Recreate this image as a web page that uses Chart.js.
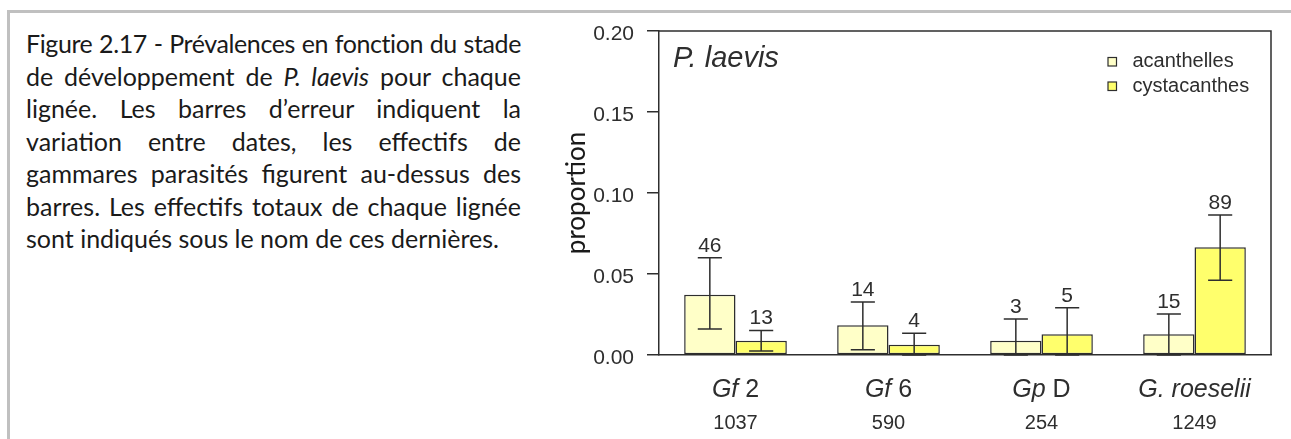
<!DOCTYPE html>
<html>
<head>
<meta charset="utf-8">
<script src="https://cdn.jsdelivr.net/npm/chart.js@4.4.0/dist/chart.umd.min.js"></script>
<style>
    html, body { margin: 0; padding: 0; background: #fff; }
    body { width: 1291px; height: 439px; position: relative; overflow: hidden; }
    #frame {
        position: absolute; left: 7px; top: 10px; width: 1300px; height: 450px;
        border-top: 3px solid #c0c0c0; border-left: 3px solid #c0c0c0;
    }
    #caption {
        position: absolute; left: 26px; top: 27px; width: 495px;
        font-family: Lato, "Open Sans", sans-serif; font-size: 25px; line-height: 32.5px; color: #1a1a1a;
    }
    #caption div { text-align: justify; text-align-last: justify; white-space: nowrap; }
    #caption div.tight { letter-spacing: -0.4px; }
    #caption div.last { text-align-last: left; }
    #wrap { position: absolute; left: 540px; top: 0; width: 751px; height: 439px; }
</style>
</head>
<body>
<div id="frame"></div>
<div id="caption">
    <div class="tight">Figure 2.17 - Prévalences en fonction du stade</div>
    <div>de développement de <i>P. laevis</i> pour chaque</div>
    <div>lignée. Les barres d’erreur indiquent la</div>
    <div>variation entre dates, les effectifs de</div>
    <div>gammares parasités figurent au-dessus des</div>
    <div>barres. Les effectifs totaux de chaque lignée</div>
    <div class="last">sont indiqués sous le nom de ces dernières.</div>
</div>
<div id="wrap"><canvas id="chart" width="751" height="439"></canvas></div>

<script>
// ==============================
// DATA
// ==============================
const categories = ["Gf 2", "Gf 6", "Gp D", "G. roeselii"];
const catItalic = ["Gf", "Gf", "Gp", "G. roeselii"];
const catPlain = ["2", "6", "D", ""];
const totals = [1037, 590, 254, 1249];

const seriesNames = ["acanthelles", "cystacanthes"];
const acanthelles = [0.0372, 0.0183, 0.0088, 0.0128];
const cystacanthes = [0.0088, 0.0064, 0.0128, 0.0665];

// error bars (variation between dates)
const acanthLow = [0.0160, 0.0033, 0, 0];
const acanthHigh = [0.0601, 0.0327, 0.0222, 0.0253];
const cystLow = [0.0025, 0, 0, 0.0461];
const cystHigh = [0.0152, 0.0134, 0.0292, 0.0864];

// parasitised gammarids above each bar
const acanthN = [46, 14, 3, 15];
const cystN = [13, 4, 5, 89];

const yTicks = [0, 0.05, 0.10, 0.15, 0.20];

const INK = "#2e2e2e";
const SANS = '"Liberation Sans", Arial, sans-serif';
const colors = ["#FFFFC8", "#FFFF6C"];

// ==============================
// EXTRA DRAWING (frame, error bars, labels, legend)
// ==============================
const extras = {
    id: "extras",
    afterDatasetsDraw(chart) {
        const { ctx, scales: { y } } = chart;
        ctx.save();
        ctx.strokeStyle = INK;
        ctx.fillStyle = INK;
        ctx.lineWidth = 1.5;
        ctx.font = "21px " + SANS;
        ctx.textAlign = "center";
        ctx.textBaseline = "alphabetic";

        const errs = [[acanthLow, acanthHigh, acanthN], [cystLow, cystHigh, cystN]];
        errs.forEach(([lo, hi, n], d) => {
            chart.getDatasetMeta(d).data.forEach((bar, i) => {
                const yHi = y.getPixelForValue(hi[i]);
                const yLo = y.getPixelForValue(lo[i]);
                const half = bar.width * 0.235;
                ctx.beginPath();
                ctx.moveTo(bar.x, yHi); ctx.lineTo(bar.x, yLo);
                ctx.moveTo(bar.x - half, yHi); ctx.lineTo(bar.x + half, yHi);
                ctx.moveTo(bar.x - half, yLo); ctx.lineTo(bar.x + half, yLo);
                ctx.stroke();
                ctx.fillText(String(n[i]), bar.x, yHi - 6);
            });
        });
        ctx.restore();
    },
    afterDraw(chart) {
        const { ctx, chartArea: a, scales: { x } } = chart;
        ctx.save();
        ctx.strokeStyle = INK;
        ctx.fillStyle = INK;
        ctx.lineWidth = 1.5;

        // box: top + right side
        ctx.beginPath();
        ctx.moveTo(a.left, a.top); ctx.lineTo(a.right, a.top); ctx.lineTo(a.right, a.bottom);
        ctx.stroke();

        // category labels (italic genus part) + totals
        ctx.textBaseline = "alphabetic";
        categories.forEach((c, i) => {
            const cx = x.getPixelForValue(i);
            ctx.font = "italic 25px " + SANS;
            const wi = ctx.measureText(catItalic[i]).width;
            const plain = catPlain[i] ? " " + catPlain[i] : "";
            ctx.font = "25px " + SANS;
            const wp = ctx.measureText(plain).width;
            const sx = cx - (wi + wp) / 2;
            ctx.textAlign = "left";
            ctx.font = "italic 25px " + SANS;
            ctx.fillText(catItalic[i], sx, a.bottom + 42);
            ctx.font = "25px " + SANS;
            ctx.fillText(plain, sx + wi, a.bottom + 42);

            ctx.textAlign = "center";
            ctx.font = "20px " + SANS;
            ctx.fillText(String(totals[i]), cx, a.bottom + 74);
        });

        // panel title
        ctx.textAlign = "left";
        ctx.font = "italic 29px " + SANS;
        ctx.fillText("P. laevis", a.left + 14, a.top + 36);

        // legend
        ctx.font = "20px " + SANS;
        ctx.lineWidth = 1.2;
        chart.data.datasets.forEach((ds, d) => {
            const ly = a.top + 31 + d * 24.5;
            const lx = a.right - 163;
            ctx.fillStyle = ds.backgroundColor;
            ctx.fillRect(lx, ly - 4.5, 8.5, 8.5);
            ctx.strokeRect(lx, ly - 4.5, 8.5, 8.5);
            ctx.fillStyle = INK;
            ctx.fillText(ds.label, lx + 24.5, ly + 5);
        });
        ctx.restore();
    }
};

// ==============================
// CHART
// ==============================
new Chart(document.getElementById("chart"), {
    type: "bar",
    data: {
        labels: categories,
        datasets: [
            { label: seriesNames[0], data: acanthelles, backgroundColor: colors[0] },
            { label: seriesNames[1], data: cystacanthes, backgroundColor: colors[1] }
        ]
    },
    options: {
        responsive: false,
        animation: false,
        devicePixelRatio: 1,
        layout: { padding: { top: 31, right: 20, left: 0, bottom: 0 } },
        datasets: {
            bar: {
                categoryPercentage: 0.671,
                barPercentage: 1,
                borderColor: INK,
                borderWidth: 1.5,
                borderSkipped: false
            }
        },
        plugins: { legend: { display: false }, tooltip: { enabled: false } },
        scales: {
            x: {
                offset: true,
                grid: { display: false },
                border: { display: true, color: INK, width: 1.5 },
                ticks: { display: false },
                afterFit: (s) => { s.height = 84; }
            },
            y: {
                min: 0,
                max: 0.2,
                afterBuildTicks: (s) => { s.ticks = yTicks.map(v => ({ value: v })); },
                ticks: {
                    callback: (v) => Number(v).toFixed(2),
                    font: { family: SANS, size: 21 },
                    color: INK,
                    padding: 13,
                    labelOffset: 3
                },
                grid: { drawOnChartArea: false, drawTicks: true, tickLength: 12, color: INK, lineWidth: 1.5 },
                border: { display: true, color: INK, width: 1.5 },
                title: {
                    display: true,
                    text: "proportion",
                    font: { family: "Lato", size: 26 },
                    color: "#1a1a1a",
                    padding: { top: 21, bottom: 0 }
                },
                afterFit: (s) => { s.width = 119; }
            }
        }
    },
    plugins: [extras]
});
</script>
</body>
</html>
